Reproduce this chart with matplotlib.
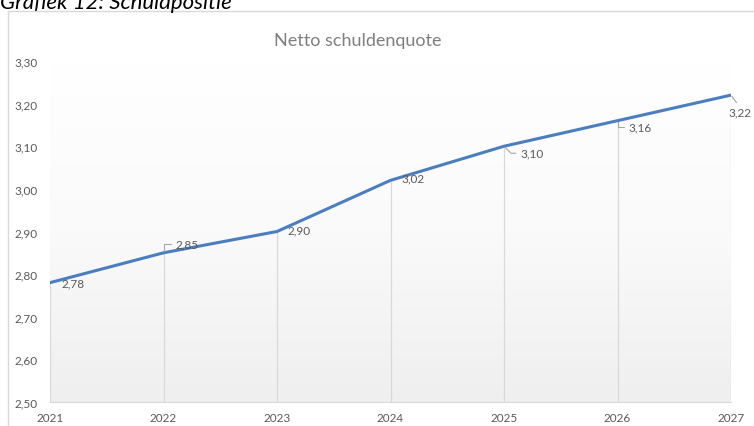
import matplotlib.pyplot as plt
import numpy as np
from matplotlib.patches import Rectangle
from matplotlib.colors import LinearSegmentedColormap

years = [2021, 2022, 2023, 2024, 2025, 2026, 2027]
quote = [2.78, 2.85, 2.90, 3.02, 3.10, 3.16, 3.22]
y_ticks = [2.5, 2.6, 2.7, 2.8, 2.9, 3.0, 3.1, 3.2, 3.3]

# label placement: offset in pixels (right, down) and leader line style
label_pos = [(11, 0), (12, -9), (11, -2), (11, -2), (16, 7), (11, 6), (-3, 17)]
leaders = [None, 'angle,angleA=0,angleB=90', None, None,
           'angle,angleA=0,angleB=-45', 'angle,angleA=0,angleB=90', 'arc3']

plt.rcParams['font.family'] = ['Lato', 'DejaVu Sans']
grey_text = '#595959'
grid_grey = '#d9d9d9'

fig = plt.figure(figsize=(7.54, 4.27), dpi=100)
ax = fig.add_axes([50 / 754, 1 - 403 / 427, 681 / 754, 341 / 427])

# outer chart border and the cut-off caption above it
fig.patches.append(Rectangle((8 / 754, -0.1), 1.1, 1 - 12 / 427 + 0.1, transform=fig.transFigure,
                             fill=False, edgecolor='#d9d9d9', linewidth=1))
fig.text(0, 1 - 9 / 427, 'Grafiek 12: Schuldpositie', fontsize=16, style='italic',
         color='black', va='baseline', ha='left')

# gradient background in plot area
grad = np.linspace(0, 1, 256).reshape(-1, 1)
cmap = LinearSegmentedColormap.from_list('g', ['#ffffff', '#fafafa', '#efefef'])
ax.imshow(grad, extent=[years[0], years[-1], 2.5, 3.3], aspect='auto',
          cmap=cmap, zorder=0, origin='upper')

ax.vlines(years, 2.5, quote, color=grid_grey, linewidth=0.9, zorder=1)
ax.plot(years, quote, color='#4a7ebf', linewidth=2.2, zorder=3)

for x, y, (dx, dy), lead in zip(years, quote, label_pos, leaders):
    props = None
    if lead is not None:
        rel = (0.5, 1) if lead == 'arc3' else (0, 0.5)
        props = dict(arrowstyle='-', color='#a6a6a6', lw=0.8, shrinkA=1, shrinkB=1,
                     connectionstyle=lead, relpos=rel)
    ax.annotate(f'{y:.2f}'.replace('.', ','), xy=(x, y), xytext=(dx * 0.72, -dy * 0.72),
                textcoords='offset points', fontsize=8.5, color=grey_text,
                ha='left', va='center', zorder=4, arrowprops=props, annotation_clip=False)

ax.set_xlim(years[0], years[-1])
ax.set_ylim(2.5, 3.3)
ax.set_yticks(y_ticks)
ax.set_yticklabels([f'{v:.2f}'.replace('.', ',') for v in y_ticks])
ax.set_xticks(years)
ax.tick_params(axis='both', length=0, labelsize=8.5, colors=grey_text)
ax.tick_params(axis='y', pad=9)
ax.tick_params(axis='x', pad=7)
for s in ['top', 'right', 'left']:
    ax.spines[s].set_visible(False)
ax.spines['bottom'].set_color(grid_grey)

fig.text(358 / 754, 1 - 41 / 427, 'Netto schuldenquote', fontsize=13, color='#7f7f7f',
         ha='center', va='center')

fig.savefig('out.png', dpi=100)
